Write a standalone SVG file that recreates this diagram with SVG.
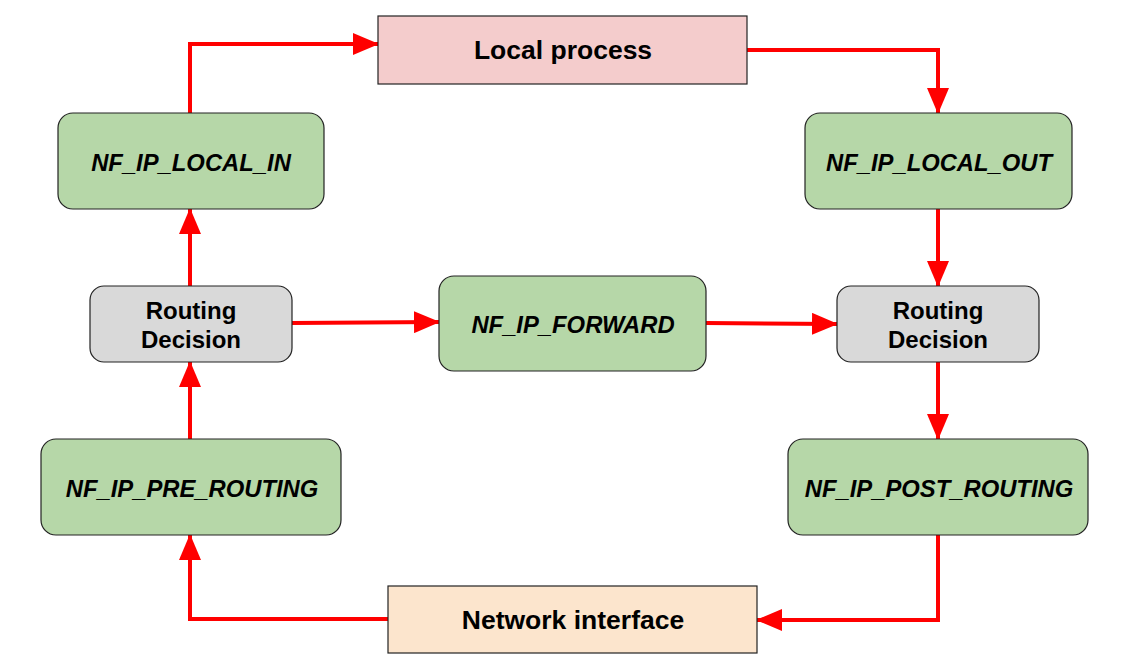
<svg xmlns="http://www.w3.org/2000/svg" width="1128" height="668" viewBox="0 0 1128 668">
<defs>
<marker id="ah" markerWidth="26" markerHeight="22" refX="25" refY="11" orient="auto" markerUnits="userSpaceOnUse">
<path d="M0,0 L26,11 L0,22 Z" fill="#ff0000"/>
</marker>
</defs>
<style>
.box{stroke:#222;stroke-width:1.2}
.hook{fill:#b6d7a8}
.rd{fill:#d9d9d9}
.t{font-family:"Liberation Sans",Arial,sans-serif;font-weight:bold;fill:#000;text-anchor:middle;dominant-baseline:central}
.it{font-style:italic;font-size:23.8px}
.big{font-size:26.5px}
.mid{font-size:24px}
.c{fill:none;stroke:#ff0000;stroke-width:4;marker-end:url(#ah)}
</style>
<rect width="1128" height="668" fill="#ffffff"/>
<g id="connectors">
<path class="c" d="M190,113 V44 H378"/>
<path class="c" d="M747,50 H938 V113"/>
<path class="c" d="M938,209 V286"/>
<path class="c" d="M938,362 V439"/>
<path class="c" d="M938,535 V620 H757"/>
<path class="c" d="M388,619 H190 V535"/>
<path class="c" d="M190,439 V362"/>
<path class="c" d="M190,286 V209"/>
<path class="c" d="M292,323 L439,322"/>
<path class="c" d="M706,323 L837,324"/>
</g>
<g id="local_process">
<rect class="box" x="378" y="16" width="369" height="68" fill="#f4cccc"/>
<text class="t big" x="563" y="50">Local process</text>
</g>
<g id="nf_ip_local_in">
<rect class="box hook" x="58" y="113" width="266" height="96" rx="15"/>
<text class="t it" x="191" y="162">NF_IP_LOCAL_IN</text>
</g>
<g id="nf_ip_local_out">
<rect class="box hook" x="805" y="113" width="267" height="96" rx="15"/>
<text class="t it" x="939" y="162">NF_IP_LOCAL_OUT</text>
</g>
<g id="routing_decision_left">
<rect class="box rd" x="90" y="286" width="202" height="76" rx="14"/>
<text class="t mid" x="191" y="310">Routing</text>
<text class="t mid" x="191" y="339">Decision</text>
</g>
<g id="nf_ip_forward">
<rect class="box hook" x="439" y="276" width="267" height="95" rx="15"/>
<text class="t it" x="573" y="324">NF_IP_FORWARD</text>
</g>
<g id="routing_decision_right">
<rect class="box rd" x="837" y="286" width="202" height="76" rx="14"/>
<text class="t mid" x="938" y="310">Routing</text>
<text class="t mid" x="938" y="339">Decision</text>
</g>
<g id="nf_ip_pre_routing">
<rect class="box hook" x="41" y="439" width="300" height="96" rx="15"/>
<text class="t it" x="192" y="488">NF_IP_PRE_ROUTING</text>
</g>
<g id="nf_ip_post_routing">
<rect class="box hook" x="788" y="439" width="300" height="96" rx="15"/>
<text class="t it" x="939" y="488">NF_IP_POST_ROUTING</text>
</g>
<g id="network_interface">
<rect class="box" x="388" y="586" width="369" height="67" fill="#fce5cd"/>
<text class="t big" x="573" y="620">Network interface</text>
</g>
</svg>
